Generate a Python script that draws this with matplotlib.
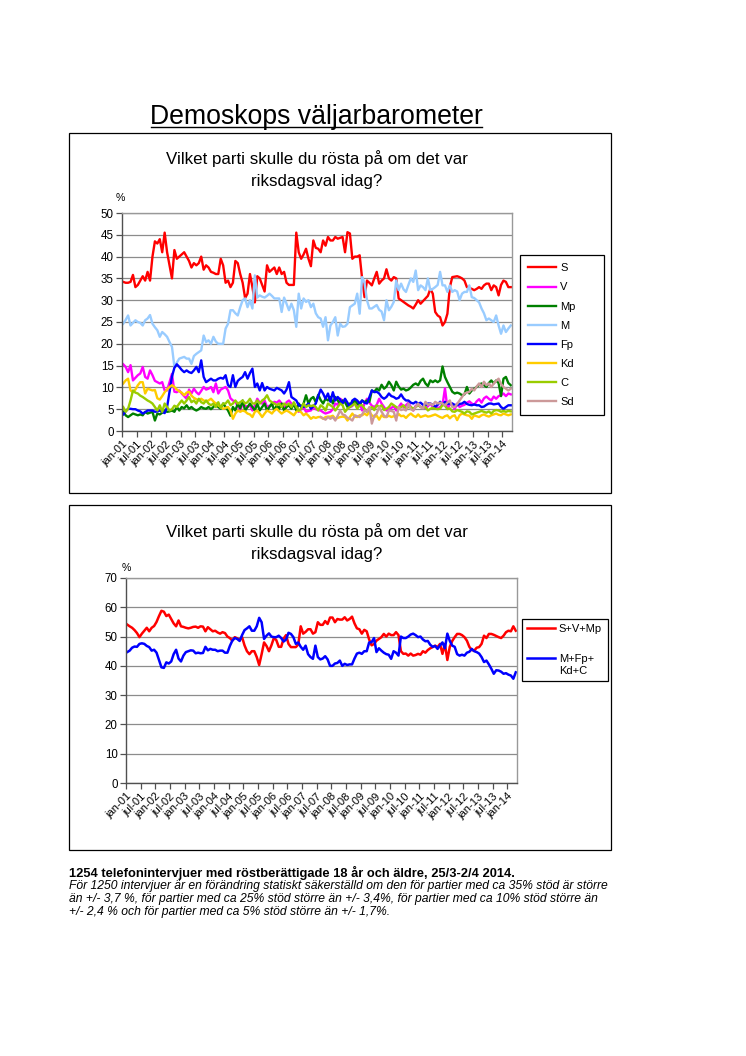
import numpy as np
import matplotlib
matplotlib.use('Agg')
import matplotlib.pyplot as plt
from matplotlib.patches import Rectangle
from matplotlib.lines import Line2D

plt.rcParams['font.family'] = ['Liberation Sans', 'DejaVu Sans']

# Månadsvärden jan-01 .. apr-14 (160 mätningar)
tick_labels = ['jan-01', 'jul-01', 'jan-02', 'jul-02', 'jan-03', 'jul-03', 'jan-04',
               'jul-04', 'jan-05', 'jul-05', 'jan-06', 'jul-06', 'jan-07', 'jul-07',
               'jan-08', 'jul-08', 'jan-09', 'jul-09', 'jan-10', 'jul-10', 'jan-11',
               'jul-11', 'jan-12', 'jul-12', 'jan-13', 'jul-13', 'jan-14']

S = [34.2, 34, 34, 34.2, 35.8, 33, 33.5, 34.5, 35.5, 34.5, 36.5, 34.5,
     40, 43.5, 43, 44, 41, 45.5, 41, 38, 35, 41.5, 39.5, 40,
     40.5, 41, 40, 39, 37.5, 38.5, 38, 38.5, 40, 37, 38, 37.5,
     36.5, 36.3, 36, 36, 39.5, 38, 34, 34.5, 33, 34, 39, 38.5,
     36, 34, 30.5, 31.5, 36, 33, 29.5, 35.5, 35, 33.5, 32, 38,
     36.5, 37, 37.5, 36, 37.5, 36, 36.5, 34, 33.5, 33.5, 33.5, 45.5,
     41, 39.5, 40.5, 41.8, 39.5, 37.8, 43.7, 42, 41.8, 41, 43.7, 42.5,
     44.5, 43.7, 43.7, 44.5, 44.1, 44.3, 44.5, 41, 45.6, 45.3, 39.5, 40,
     40, 40.3, 35, 30.7, 34.5, 34, 33.4, 35, 36.5, 33.8, 34.5, 35,
     37.1, 35, 34.5, 35.3, 35, 30.4, 30, 29.6, 29.2, 28.8, 28.5, 28.1,
     29, 30, 29.2, 29.8, 30.4, 31, 32.6, 31.5, 27.3, 26.5, 26.1, 24.2,
     25, 26.9, 33, 35.3, 35.4, 35.5, 35.3, 35, 34.5, 33, 32.8, 32.6,
     32.3, 32.6, 33, 32.6, 33.4, 33.8, 33.8, 32.3, 33.4, 33, 31.1, 33.5,
     34.5, 34.2, 33, 33]

V = [15.3, 14.7, 13.5, 15.1, 11.6, 12.2, 12.8, 13.2, 14.7, 12.4, 12, 13.9,
     12.8, 11.5, 11.2, 10.9, 11.2, 9.3, 9.3, 11.2, 13.1, 9, 8.9, 9.3,
     8.6, 8, 7.4, 9.5, 8.6, 9.7, 8.9, 8.4, 9.2, 10.1, 9.5, 9.7,
     10.1, 8.9, 10.9, 8.6, 9.5, 9.8, 10.1, 9.3, 7.5, 7, 6.7, 5.7,
     4.7, 6.3, 5.8, 5.5, 5.9, 4.7, 5.9, 7.4, 6.5, 6.3, 7, 5.5,
     5.8, 5.9, 6.7, 6.5, 7, 6.3, 5.1, 6.6, 7, 6.3, 5.8, 5.5,
     4.4, 5, 5.5, 4.4, 4.6, 4.7, 5.5, 5, 4.8, 4.7, 4.3, 4,
     4.2, 4.4, 5, 6.3, 6, 7.4, 7, 6.8, 5.9, 5.5, 5.7, 7,
     5.5, 6.5, 4.7, 6.3, 7.4, 6.5, 5.8, 5.5, 6, 7.4, 6.3, 5.5,
     4.7, 5, 5.3, 5.7, 4.7, 5.5, 6.3, 5.5, 5.9, 6.5, 5.5, 4.7,
     5.8, 6, 5.5, 5.5, 5.2, 5.7, 6.3, 5.5, 5.8, 5.2, 5.5, 6,
     9.8, 5.2, 6, 6.3, 5, 6.3, 5.5, 5.8, 6, 6.5, 6.8, 6.3,
     6, 6.8, 7.3, 6.5, 7.5, 7.9, 7.4, 7, 7.9, 7.4, 8, 8.2,
     8.6, 8, 8.6, 8.4]

Mp = [4.4, 3.6, 3.2, 3.6, 4, 3.8, 3.6, 3.8, 3.6, 4.4, 4, 4.2,
      4.4, 2.4, 4, 3.8, 4.2, 4.7, 4.4, 4.5, 4.7, 4.4, 5.5, 4.7,
      5.5, 5.2, 5.9, 5.1, 5.5, 5, 4.7, 5, 5.5, 5.2, 5.1, 5.5,
      5, 5.5, 6.3, 5.5, 5.1, 6.3, 5.5, 4.7, 3.5, 5.5, 4.7, 6.3,
      5.2, 7, 4.7, 5.5, 6.3, 5.5, 4.7, 6.3, 4.7, 5.5, 6.3, 4.7,
      5.5, 6.3, 4.7, 5.9, 5.1, 6.3, 4.7, 5.5, 5.9, 5.1, 6.3, 4.7,
      6.3, 5.5, 6.3, 8.2, 6.3, 7.4, 7.8, 6.6, 8.3, 7.1, 6.3, 7.4,
      7, 7.8, 6.3, 7.8, 7, 6.3, 7, 6.6, 5.5, 6.3, 6.3, 7,
      6.3, 5.9, 7, 6.6, 7, 6.7, 9.3, 9, 9.7, 9.3, 10.6, 9.7,
      10.2, 11.3, 10.5, 9.3, 11.3, 10.2, 9.5, 9.7, 9.3, 9.5, 10, 10.6,
      10.9, 10.5, 11.5, 12, 10.9, 10.3, 11.6, 11.2, 11.6, 11.2, 11.6, 14.8,
      12.4, 11.2, 10.1, 9, 8.6, 8.8, 8.6, 8.2, 8.4, 10.1, 8.6, 9.3,
      9.7, 10.1, 10.6, 10.9, 10.5, 10.1, 11, 11.6, 10.9, 11.6, 11, 8,
      12, 12.4, 11, 10.5]

M = [24.6, 25.5, 26.5, 24.2, 24.8, 25.4, 25, 24.8, 24.2, 25.4, 25.8, 26.6,
     24.6, 23.8, 23.1, 21.6, 22.7, 22.2, 21.6, 20.4, 19.3, 14.7, 15.7, 16.6,
     16.8, 17, 16.6, 16.6, 15.4, 17.2, 17.7, 18.1, 18.5, 21.9, 20.4, 20.8,
     20, 21.6, 20.5, 20, 20, 20, 23.5, 24.6, 27.7, 27.7, 27, 26.5,
     28.4, 30, 30.4, 28.4, 30, 28.1, 35.7, 30.6, 31.1, 30.8, 30.6, 31,
     31.5, 31, 30.4, 30.4, 30.4, 27.3, 30.6, 29.2, 27.7, 29.2, 27.7, 23.9,
     31.5, 28.1, 30.4, 29.6, 30, 28.4, 29.2, 27, 26.1, 25.8, 23.9, 26.1,
     20.8, 24.2, 25, 26.1, 21.9, 24.6, 23.9, 24, 24.6, 28.4, 28.8, 29.2,
     31.5, 26.9, 35.3, 34, 30, 28.1, 28.1, 28.5, 28.9, 27.8, 27.4, 25.4,
     30, 27.7, 28.5, 29.6, 34.5, 32.3, 33.8, 32.5, 31.9, 33.5, 35, 34.2,
     36.8, 32.3, 33.4, 33, 32.3, 35, 32.3, 32.6, 33, 33.5, 36.5, 33.4,
     33.4, 31.9, 33.4, 31.9, 32.3, 32, 30, 31.5, 31.9, 31.9, 33.4, 30.7,
     30.5, 30, 29.5, 28.1, 27, 25.4, 25.8, 25.4, 25, 26.5, 24.2, 22.3,
     24.2, 22.7, 23.5, 24.2]

Fp = [3.8, 4.5, 5.1, 5.1, 5, 5, 4.7, 4.5, 4, 4.3, 4.7, 4.7,
      4.7, 4.4, 4.5, 4.7, 4.4, 4.1, 5.5, 9, 12.5, 14.5, 15.3, 14.7,
      14, 13.5, 13.9, 13.5, 13.3, 13.9, 14.7, 13.5, 16.2, 12.4, 11.2, 11.6,
      12, 11.6, 11.6, 12, 12.2, 12, 12.8, 10.5, 10.1, 12.8, 10.1, 11.5,
      12, 12.4, 13.5, 12, 13.3, 14.3, 10.1, 10.9, 9.3, 11, 9.3, 10.1,
      9.7, 9.5, 9.3, 9.9, 9.6, 9.3, 8.6, 9.5, 11.2, 7.8, 7.4, 7,
      5.9, 5.7, 5.5, 5.8, 6.3, 5.1, 5.7, 6.3, 8, 9.5, 8.6, 7.4,
      8.6, 6.7, 8.9, 7, 7.8, 7.2, 6.3, 7.4, 6.5, 5.5, 7, 7.4,
      7, 6.3, 7, 6.5, 6.3, 7.8, 9.3, 8.9, 9, 8.6, 7.8, 7.4,
      7.8, 8.6, 8, 7.8, 7.4, 7.6, 8.4, 7.5, 7, 7, 6.5, 6.3,
      6.7, 6.3, 6.5, 6, 5.9, 6.3, 6.3, 6, 5.5, 6, 6.7, 6,
      6.7, 6.2, 6.3, 6.3, 6, 5.9, 6.2, 6.3, 6.7, 6.2, 6, 5.9,
      6.1, 5.9, 5.9, 5.5, 5.6, 6, 6.3, 6.3, 6.1, 6.2, 6.3, 5.5,
      5.1, 5.5, 5.9, 5.9]

Kd = [10.9, 11.6, 12, 9.3, 8.9, 9.5, 10.5, 11.2, 11.2, 8.6, 9.7, 9.5,
      9.3, 9.4, 7.5, 7.2, 8, 8.9, 9.5, 10.1, 10.5, 10.1, 9.5, 9.1,
      8.8, 8.2, 8.8, 9, 8.1, 7.6, 7.3, 7, 7.4, 7, 6.8, 7,
      7.4, 6.8, 6.3, 5.9, 5.5, 5.1, 5.3, 5.5, 4.7, 2.8, 4, 4.7,
      4.4, 4.7, 4.5, 4, 3.8, 3.2, 4.4, 4.7, 4, 3.2, 4, 4.7,
      4.4, 4, 4.7, 5.1, 4.5, 4, 4.4, 4.7, 4.4, 4, 3.6, 4.4,
      4.7, 4.3, 3.6, 4, 3.5, 2.8, 3.2, 3, 3.2, 3.2, 2.8, 3.2,
      3.3, 3.3, 3.5, 2.8, 3, 3.2, 3.3, 3.2, 2.4, 3.2, 4, 3.3,
      3.2, 3.6, 3.6, 4, 3.6, 4.4, 3.6, 3.2, 3.5, 2.6, 3.6, 3.2,
      3.2, 3.5, 3.2, 3.4, 3.2, 3.9, 3.4, 3.5, 3, 3.6, 4, 3.5,
      3.2, 3.8, 3.2, 3.4, 3.6, 3.3, 3.4, 3.6, 3.8, 3.5, 3.2, 3,
      3.4, 3.6, 2.9, 3.4, 3.6, 2.5, 3.6, 4, 3.8, 3.6, 3.5, 2.8,
      3.6, 3.4, 3.2, 3.6, 3.8, 3.5, 3.3, 3.6, 3.8, 4, 3.7, 3.6,
      4, 3.8, 3.6, 3.8]

C = [5.5, 4.4, 5.1, 7, 9.3, 8.8, 8.6, 8.1, 7.8, 7.4, 7, 6.7,
     6.3, 5.5, 4.7, 5.9, 4.4, 6.3, 5.5, 4.7, 5, 5.8, 5.5, 6.3,
     7, 6.3, 7, 7.8, 6.6, 7, 6.3, 7.4, 6.6, 6.3, 7, 6.3,
     5.9, 6.3, 5.5, 6.6, 5.3, 6.3, 6.3, 7, 5.9, 6.3, 7, 6.3,
     6.6, 7, 6.3, 6.6, 7.4, 6.3, 6.3, 7, 6.3, 7, 7.4, 8.2,
     7, 6.6, 6.3, 5.9, 6.3, 5.5, 6.3, 5.9, 6.3, 5.5, 6.6, 5.5,
     4.7, 5.1, 6.3, 5.5, 5.9, 5.7, 5.9, 5.5, 4.7, 5.9, 5.5, 4.7,
     6.3, 5.9, 5.5, 4.7, 5.5, 6.3, 5.9, 4.4, 5.1, 5.5, 5.9, 6.3,
     5.1, 5.9, 5.9, 5.1, 4.4, 5.1, 5.5, 4.8, 5.9, 5.5, 5.9, 4.8,
     5.1, 5.5, 6.3, 5.9, 5.5, 5.1, 5.5, 5.9, 5.1, 5.5, 5.5, 5.1,
     5.5, 5.9, 5.5, 5.3, 5.5, 4.7, 5.1, 5.3, 5.1, 5, 5.1, 6,
     5.8, 5, 5.2, 4.5, 4.4, 4.8, 4.6, 4.4, 4, 4.5, 4.4, 3.8,
     4, 4.2, 4.4, 4.6, 4.4, 4.2, 4.5, 4, 4.6, 4.8, 4.7, 4.4,
     4.6, 4.4, 4.6, 4.5]

# Sd redovisas från okt-07
Sd = [None] * 81 + [
     3.2, 2.9, 2.6,
     3.2, 2.8, 3.2, 2.4, 3.5, 4.7, 3.8, 3.6, 3, 2.8, 2.4, 3.6,
     3.4, 3.2, 3.8, 4.7, 4.4, 5.5, 1.7, 3.5, 4, 5.5, 4.4, 3.5,
     3.2, 4.7, 4.6, 4.4, 2.4, 5.5, 4.8, 5, 4.7, 6.3, 5, 4.7,
     5.5, 6.3, 5.5, 5.2, 6.7, 6, 6.3, 5.9, 6.7, 6.3, 6.5, 6.3,
     5.9, 6.5, 7, 5.5, 5.5, 6.2, 7, 7.8, 8.6, 8.8, 9, 9.7,
     9.3, 10.2, 10.9, 10.1, 11.3, 10.5, 10.9, 10.1, 10.9, 11.5, 12, 10.8,
     10.1, 9.7, 9.3, 9.7]

SVMp = [54.1, 53.5, 53, 52.2, 51.2, 49.8, 51, 52, 53, 51.8, 53, 53.6,
        55, 57, 58.8, 58.5, 57, 57.5, 56, 54.5, 53.5, 55.5, 53.5, 53.3,
        53, 52.8, 53, 53.3, 53.4, 53, 53.5, 53.4, 51.8, 53.2, 52.5, 51.8,
        52, 51.4, 51, 51.5, 51.2, 50, 49.5, 48.6, 49.8, 49.4, 48.8, 49.8,
        47, 45, 44, 45, 45, 43, 40.3, 44, 48, 46.8, 45, 47,
        49.5, 48.8, 46.5, 46.5, 49.3, 50.5, 47.5, 46.4, 46.4, 46.4, 47.3, 53.5,
        51, 51.6, 52.5, 52.5, 51, 51.5, 54.9, 54, 54, 55.3, 54.3, 56.5,
        56.5, 54.9, 56, 55.8, 55.8, 56.6, 55.5, 56, 56.8, 54.5, 52.8, 52.5,
        51, 52.3, 51.8, 49, 47, 47.5, 48.6, 49.2, 49.8, 50.9, 50, 51,
        50.5, 50.5, 51.5, 50.5, 45, 44.1, 44.2, 43.5, 44.2, 43.5, 43.7, 44.1,
        43.8, 45, 44.5, 45.4, 46, 46.4, 46.9, 46.4, 47.5, 44.1, 47.5, 42,
        46.5, 48.5, 49.8, 50.9, 50.9, 50.5, 49.8, 48.6, 46.5, 45.4, 45.2, 46.2,
        46.4, 47.5, 50.3, 49.5, 50.9, 50.9, 50.6, 50.2, 49.8, 49.5, 50.3, 51.5,
        52, 51.8, 53.5, 52]

MFpKdC = [44.7, 45.2, 46.2, 46.6, 46.5, 47.5, 47.7, 47.5, 46.8, 46.4, 45.2, 45.5,
          44.5, 42, 39.5, 39.3, 41.2, 40.8, 41.5, 44, 45.5, 42.5, 41.5, 43.5,
          44.7, 45, 45.3, 45.2, 44.3, 44.5, 44.3, 44.4, 46.5, 45.3, 45.8, 45.5,
          45.5, 45, 45.2, 45.2, 44.5, 44.5, 46.8, 48.6, 49.5, 49.2, 48.5, 50.5,
          52.2, 52.8, 53.5, 52, 52, 53.5, 56.4, 54.9, 49.2, 50.3, 51.1, 50,
          49.8, 49.8, 50.3, 49.5, 48.3, 49, 51.3, 50.9, 49.8, 47.5, 48, 46.5,
          45.5, 46.9, 44, 43, 42.4, 46.9, 43, 42.2, 42.5, 43.3, 42.2, 40,
          40, 40.8, 41, 41.8, 40, 40.7, 40.3, 40.5, 40.5, 42.5, 44.2, 44.5,
          44.1, 45, 45, 48, 48.1, 49.5, 44.7, 46, 45.2, 44.5, 44, 43.8,
          42.4, 45, 44.5, 43.5, 50, 49.5, 49.5, 50, 50.7, 51, 50.5, 49.8,
          50, 49, 48.4, 48.5, 47.2, 46.5, 46.8, 45.8, 47, 48, 46, 51,
          48.5, 46.9, 46.5, 44, 43.5, 43.8, 43.5, 44.5, 44.8, 45.8, 45, 44.7,
          44.2, 43, 41.3, 41.8, 40.5, 39, 37.3, 38.5, 38.4, 38, 37.3, 37.5,
          37, 36.7, 35.6, 37.8]

parties = ['S', 'V', 'Mp', 'M', 'Fp', 'Kd', 'C', 'Sd']
party_values = [S, V, Mp, M, Fp, Kd, C, Sd]
party_colors = ['#ff0000', '#ff00ff', '#008000', '#99ccff',
                '#0000ff', '#ffcc00', '#99cc00', '#cc9999']

W, H = 746, 1056
fig = plt.figure(figsize=(W / 100, H / 100), dpi=100)


def fig_rect(left, top, right, bottom):
    # pixelkoordinater -> figurandelar
    return [left / W, 1 - bottom / H, (right - left) / W, (bottom - top) / H]


def style_axes(ax, ymax, ystep):
    n = len(S)
    ax.set_xlim(-0.5, n - 0.5)
    ax.set_ylim(0, ymax)
    ax.set_yticks(np.arange(0, ymax + 1, ystep))
    ax.set_xticks(np.arange(0, n, 6) - 0.5)
    ax.set_xticklabels(tick_labels, rotation=45, ha='right',
                       rotation_mode='anchor', fontsize=8)
    ax.tick_params(axis='y', labelsize=8.3, length=4, width=0.9,
                   color='#505050', pad=2)
    ax.tick_params(axis='x', length=4, width=0.9, color='#505050', pad=2)
    ax.yaxis.grid(True, color='#8c8c8c', lw=0.9)
    ax.set_axisbelow(True)
    for side in ['left', 'bottom']:
        ax.spines[side].set_color('#505050')
        ax.spines[side].set_linewidth(1.0)
    for side in ['top', 'right']:
        ax.spines[side].set_color('#999999')
        ax.spines[side].set_linewidth(1.0)


# Rubrik med understrykning
fig.text(316.5 / W, 1 - 124 / H, 'Demoskops väljarbarometer', fontsize=19.2,
         ha='center', va='baseline')
fig.add_artist(Line2D([151 / W, 482 / W], [1 - 127 / H, 1 - 127 / H],
                      color='black', lw=1.0))

# Ramar runt diagrammen
for top, bottom in [(133, 493), (505, 850)]:
    fig.add_artist(Rectangle((69 / W, 1 - bottom / H), (611 - 69) / W,
                             (bottom - top) / H, fill=False,
                             edgecolor='black', lw=0.9))

chart_title = 'Vilket parti skulle du rösta på om det var\nriksdagsval idag?'

# Diagram 1: partierna
ax1 = fig.add_axes(fig_rect(122, 213, 512, 431))
for name, vals, col in zip(parties, party_values, party_colors):
    y = np.array([np.nan if v is None else v for v in vals], dtype=float)
    ax1.plot(np.arange(len(y)), y, color=col, lw=1.7, label=name)
style_axes(ax1, 50, 5)
fig.text(317 / W, 1 - 170 / H, chart_title, fontsize=12.2, ha='center',
         va='center', linespacing=1.58)
fig.text(120 / W, 1 - 198 / H, '%', fontsize=7.6, ha='center', va='center')
leg1 = ax1.legend(loc='upper left', bbox_to_anchor=fig_rect(520, 255, 604, 420),
                  bbox_transform=fig.transFigure, mode='expand', fontsize=8,
                  frameon=True, fancybox=False, edgecolor='black',
                  framealpha=1, handlelength=2.5, handletextpad=0.35,
                  labelspacing=0.82, borderpad=0.75, borderaxespad=0)
leg1.get_frame().set_linewidth(0.9)

# Diagram 2: blocken
ax2 = fig.add_axes(fig_rect(126, 578, 517, 783))
ax2.plot(np.arange(len(SVMp)), SVMp, color='#ff0000', lw=1.8, label='S+V+Mp')
ax2.plot(np.arange(len(MFpKdC)), MFpKdC, color='#0000ff', lw=1.8,
         label='M+Fp+\nKd+C')
style_axes(ax2, 70, 10)
fig.text(317 / W, 1 - 543 / H, chart_title, fontsize=12.2, ha='center',
         va='center', linespacing=1.58)
fig.text(126 / W, 1 - 568 / H, '%', fontsize=7.6, ha='center', va='center')
leg2 = ax2.legend(loc='upper left', bbox_to_anchor=fig_rect(522, 619, 608, 680),
                  bbox_transform=fig.transFigure, mode='expand', fontsize=8,
                  frameon=True, fancybox=False, edgecolor='black',
                  framealpha=1, handlelength=2.5, handletextpad=0.35,
                  labelspacing=1.8, borderpad=0.45, borderaxespad=0)
leg2.get_frame().set_linewidth(0.9)
# linjen ska stå vid första raden i "M+Fp+ / Kd+C"
blue_handle = leg2.get_lines()[1]
blue_handle.set_ydata(np.asarray(blue_handle.get_ydata()) + 5.0)

# Fotnot
fig.text(69 / W, 1 - 873 / H,
         '1254 telefonintervjuer med röstberättigade 18 år och äldre, 25/3-2/4 2014.',
         fontsize=9.3, fontweight='bold', ha='left', va='center')
notes = ['För 1250 intervjuer är en förändring statiskt säkerställd om den för partier med ca 35% stöd är större',
         'än +/- 3,7 %, för partier med ca 25% stöd större än +/- 3,4%, för partier med ca 10% stöd större än',
         '+/- 2,4 % och för partier med ca 5% stöd större än +/- 1,7%.']
for i, line in enumerate(notes):
    fig.text(69 / W, 1 - (886 + 13 * i) / H, line, fontsize=8.7,
             style='italic', ha='left', va='center')

fig.savefig('out.png', dpi=100)
